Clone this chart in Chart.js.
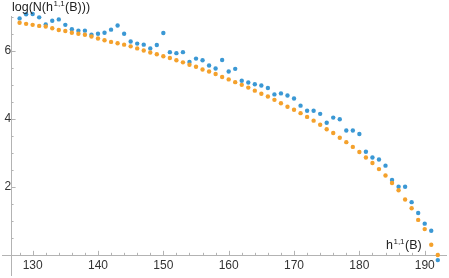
<!DOCTYPE html>
<html><head><meta charset="utf-8">
<script src="https://cdn.jsdelivr.net/npm/chart.js@4.4.1/dist/chart.umd.min.js"></script>
<style>html,body{margin:0;padding:0;background:#fff;overflow:hidden}</style>
</head><body>
<canvas id="c" width="449" height="278"></canvas>
<script>
const h11 = [128,129,130,131,132,133,134,135,136,137,138,139,140,141,142,143,144,145,146,147,148,149,150,
  151,152,153,154,155,156,157,158,159,160,161,162,163,164,165,166,167,168,169,170,
  171,172,173,174,175,176,177,178,179,180,181,182,183,184,185,186,187,188,189,190,191,192];
const observed = [6.95,7.07,7.08,6.98,6.77,6.88,6.92,6.76,6.63,6.59,6.59,6.47,6.50,6.53,6.62,6.74,6.50,6.27,6.21,6.18,6.07,6.17,6.52,
  5.96,5.93,5.96,5.67,5.77,5.72,5.57,5.48,5.73,5.39,5.47,5.12,5.07,5.02,4.98,4.91,4.72,4.75,4.69,4.60,
  4.39,4.24,4.24,4.15,3.89,4.04,3.99,3.66,3.66,3.56,3.04,2.87,2.81,2.63,2.21,2.01,2.01,1.56,1.24,0.93,0.72,-0.14];
const fitted = [6.82,6.79,6.76,6.73,6.71,6.66,6.61,6.58,6.53,6.50,6.47,6.42,6.36,6.31,6.26,6.22,6.18,6.13,6.07,6.01,5.95,5.90,5.84,
  5.79,5.72,5.66,5.59,5.53,5.45,5.39,5.32,5.23,5.16,5.08,5.00,4.92,4.83,4.74,4.66,4.56,4.46,4.36,4.27,
  4.17,4.06,3.95,3.83,3.70,3.59,3.45,3.32,3.18,3.03,2.87,2.71,2.53,2.34,2.12,1.91,1.64,1.38,1.04,0.77,0.31,0.01];
const xTicks = [130,140,150,160,170,180,190];
const yTicks = [2,4,6];

const AXIS = '#b3b3b3';
const FONT = 'Liberation Sans, Arial, sans-serif';

function noPad(s, horiz) {
  if (horiz) s.height = 0; else s.width = 0;
  s.paddingTop = 0; s.paddingBottom = 0; s.paddingLeft = 0; s.paddingRight = 0;
}

const tickPlugin = {
  id: 'mmaTicks',
  beforeDatasetsDraw(chart) {
    const {ctx, scales: {x, y}} = chart;
    const x0 = x.getPixelForValue(126.7);
    const y0 = y.getPixelForValue(0);
    ctx.save();
    ctx.strokeStyle = AXIS;
    ctx.lineWidth = 1;
    ctx.beginPath();
    for (let v = 128; v <= 192; v += 2) {
      const px = Math.round(x.getPixelForValue(v)) + 0.5;
      const len = v % 10 === 0 ? 4.5 : 2.5;
      ctx.moveTo(px, y0); ctx.lineTo(px, y0 - len);
    }
    for (let v = 0.5; v <= 7; v += 0.5) {
      const py = Math.round(y.getPixelForValue(v)) + 0.5;
      const len = v % 2 === 0 ? 4.5 : 2.5;
      ctx.moveTo(x0, py); ctx.lineTo(x0 + len, py);
    }
    ctx.stroke();
    ctx.restore();
  },
  afterDraw(chart) {
    const {ctx} = chart;
    ctx.save();
    ctx.fillStyle = '#222';
    ctx.textBaseline = 'alphabetic';
    let px = 12, base = 11;
    ctx.font = '12.5px ' + FONT;
    ctx.fillText('log(N(h', px, base); px += ctx.measureText('log(N(h').width;
    ctx.font = '8px ' + FONT;
    ctx.fillText('1,1', px + 0.5, base - 5); px += ctx.measureText('1,1').width + 1;
    ctx.font = '12.5px ' + FONT;
    ctx.fillText('(B)))', px, base);
    px = 386; base = 249;
    ctx.fillText('h', px, base); px += ctx.measureText('h').width;
    ctx.font = '8px ' + FONT;
    ctx.fillText('1,1', px + 0.5, base - 5); px += ctx.measureText('1,1').width + 1;
    ctx.font = '12.5px ' + FONT;
    ctx.fillText('(B)', px, base);
    ctx.restore();
  }
};

new Chart(document.getElementById('c'), {
  type: 'scatter',
  data: {
    datasets: [
      { label: 'fit', data: h11.map((h, i) => ({x: h, y: fitted[i]})),
        backgroundColor: '#f4a12c', pointRadius: 2.2, pointBorderWidth: 0, pointHoverRadius: 2.2, clip: false },
      { label: 'data', data: h11.map((h, i) => ({x: h, y: observed[i]})),
        backgroundColor: '#3b98d4', pointRadius: 2.2, pointBorderWidth: 0, pointHoverRadius: 2.2, clip: false }
    ]
  },
  options: {
    responsive: false, animation: false, devicePixelRatio: 1,
    layout: { padding: { left: 2, right: 2, top: 16, bottom: 1 } },
    plugins: { legend: { display: false }, tooltip: { enabled: false } },
    scales: {
      x: {
        type: 'linear', min: 125.34, max: 193.38, position: { y: 0 },
        afterFit: s => noPad(s, true),
        grid: { display: false, drawTicks: false },
        border: { display: true, color: AXIS, width: 1 },
        afterBuildTicks: s => { s.ticks = xTicks.map(v => ({value: v})); },
        ticks: { padding: 3, maxRotation: 0, autoSkip: false, color: '#333', font: { family: FONT, size: 12 },
                 callback: v => String(v) }
      },
      y: {
        type: 'linear', min: -0.6, max: 7.02, position: { x: 126.7 },
        afterFit: s => noPad(s, false),
        grid: { display: false, drawTicks: false },
        border: { display: true, color: AXIS, width: 1 },
        afterBuildTicks: s => { s.ticks = yTicks.map(v => ({value: v})); },
        ticks: { padding: 4, autoSkip: false, color: '#333', font: { family: FONT, size: 12 },
                 callback: v => String(v) }
      }
    }
  },
  plugins: [tickPlugin]
});
</script>
</body></html>
